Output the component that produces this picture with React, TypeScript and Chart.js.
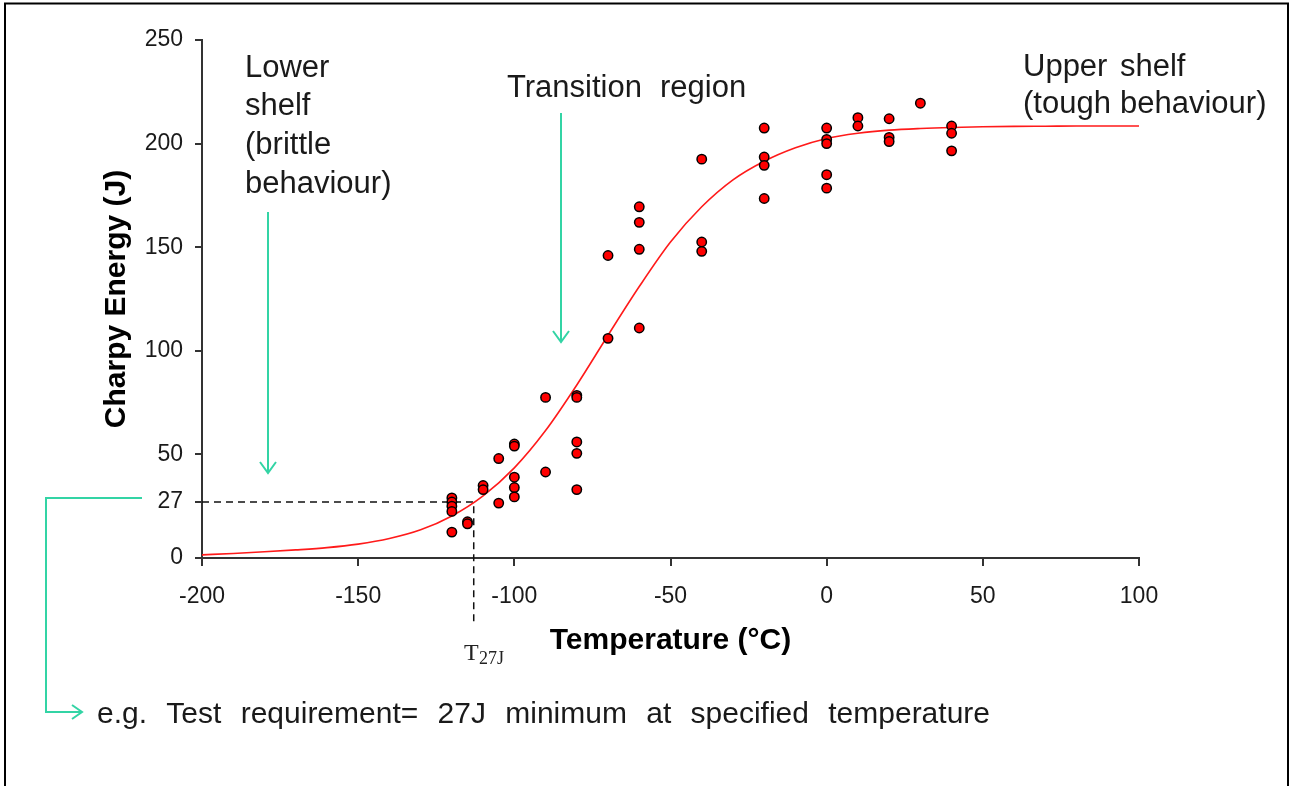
import React, { useEffect, useRef } from "react";
import { Chart, registerables } from "chart.js";

Chart.register(...registerables);

// Measured Charpy test points
const POINT_TEMPS = [
  -120, -120, -120, -120, -120,
  -115, -115,
  -110, -110,
  -105, -105,
  -100, -100, -100, -100, -100,
  -90, -90,
  -80, -80, -80, -80, -80,
  -70, -70,
  -60, -60, -60, -60,
  -40, -40, -40,
  -20, -20, -20, -20,
  0, 0, 0, 0, 0,
  10, 10,
  20, 20, 20,
  30,
  40, 40, 40,
];
const POINT_ENERGIES = [
  29, 27, 25, 22.5, 12.5,
  17.5, 16.5,
  35, 33,
  48, 26.5,
  55, 54, 39, 34, 29.5,
  77.5, 41.5,
  78.5, 77.5, 56, 50.5, 33,
  146, 106,
  169.5, 162, 149, 111,
  192.5, 152.5, 148,
  207.5, 193.5, 189.5, 173.5,
  207.5, 202, 200, 185, 178.5,
  212.5, 208.5,
  212, 203, 201,
  219.5,
  208.5, 205, 196.5,
];

// Fitted transition curve
const CURVE_TEMPS = [
  -200, -190, -180, -170, -160, -150, -140, -130, -120, -110, -100,
  -90, -80, -70, -60, -50, -40, -30, -20, -10, 0,
  10, 20, 30, 40, 50, 60, 70, 80, 90, 100,
];
const CURVE_ENERGIES = [
  1.5, 2.2, 3.0, 3.9, 5.0, 6.7, 9.4, 13.6, 20.3, 30, 43.5,
  61.5, 83.5, 107.5, 131, 152.5, 169.5, 182.5, 191.5, 198, 202.5,
  205, 206.5, 207.3, 207.8, 208.1, 208.3, 208.4, 208.5, 208.5, 208.5,
];

const Y_TICKS = [0, 27, 50, 100, 150, 200, 250];
const X_TICKS = [-200, -150, -100, -50, 0, 50, 100];
const REQUIREMENT_ENERGY = 27;
const T27J = -113;

const REQUIREMENT_WORDS = ["e.g.", "Test", "requirement=", "27J", "minimum", "at", "specified", "temperature"];

const SANS = "'Liberation Sans', Arial, sans-serif";
const SERIF = "'Liberation Serif', 'Times New Roman', serif";
const GREEN = "#33d4a5";
const INK = "#1a1a1a";

function arrowDown(ctx: CanvasRenderingContext2D, x: number, y1: number, y2: number) {
  ctx.beginPath();
  ctx.moveTo(x, y1);
  ctx.lineTo(x, y2);
  ctx.moveTo(x - 8, y2 - 11);
  ctx.lineTo(x, y2);
  ctx.lineTo(x + 8, y2 - 11);
  ctx.stroke();
}

function spreadWords(ctx: CanvasRenderingContext2D, words: string[], x0: number, x1: number, y: number) {
  const widths = words.map((w) => ctx.measureText(w).width);
  const total = widths.reduce((a, b) => a + b, 0);
  const gap = (x1 - x0 - total) / (words.length - 1);
  let x = x0;
  words.forEach((w, i) => {
    ctx.fillText(w, x, y);
    x += widths[i] + gap;
  });
}

const annotations = {
  id: "annotations",
  beforeDatasetsDraw(chart: any) {
    const { ctx, chartArea, scales } = chart;
    const y27 = scales.y.getPixelForValue(REQUIREMENT_ENERGY);
    const xT = scales.x.getPixelForValue(T27J);
    ctx.save();
    ctx.strokeStyle = "#111";
    ctx.lineWidth = 1.5;
    ctx.setLineDash([7, 5]);
    ctx.beginPath();
    ctx.moveTo(chartArea.left, y27);
    ctx.lineTo(xT, y27);
    ctx.lineTo(xT, 622);
    ctx.stroke();
    ctx.restore();
  },
  afterDraw(chart: any) {
    const { ctx, chartArea } = chart;
    ctx.save();
    // frame
    ctx.strokeStyle = "#000";
    ctx.lineWidth = 2;
    ctx.beginPath();
    ctx.moveTo(5, 800);
    ctx.lineTo(5, 3.5);
    ctx.lineTo(1288, 3.5);
    ctx.lineTo(1288, 800);
    ctx.stroke();

    // axis titles
    ctx.fillStyle = "#000";
    ctx.font = `bold 30px ${SANS}`;
    ctx.textAlign = "center";
    ctx.textBaseline = "middle";
    ctx.fillText("Temperature (°C)", (chartArea.left + chartArea.right) / 2, 641);
    ctx.save();
    ctx.translate(117, (chartArea.top + chartArea.bottom) / 2);
    ctx.rotate(-Math.PI / 2);
    ctx.fillText("Charpy Energy (J)", 0, 0);
    ctx.restore();

    // annotation texts
    ctx.fillStyle = INK;
    ctx.font = `31px ${SANS}`;
    ctx.textAlign = "left";
    ctx.textBaseline = "alphabetic";
    ctx.fillText("Lower", 245, 77);
    ctx.fillText("shelf", 245, 115);
    ctx.fillText("(brittle", 245, 154);
    ctx.fillText("behaviour)", 245, 193);
    ctx.fillText("Transition", 507, 97);
    ctx.fillText("region", 660, 97);
    ctx.fillText("Upper", 1023, 76);
    ctx.fillText("shelf", 1120, 76);
    ctx.fillText("(tough", 1023, 113);
    ctx.fillText("behaviour)", 1120, 113);
    ctx.font = `30px ${SANS}`;
    spreadWords(ctx, REQUIREMENT_WORDS, 97, 990, 723);

    // T27J label
    ctx.fillStyle = "#222";
    ctx.font = `24px ${SERIF}`;
    ctx.fillText("T", 464, 660);
    ctx.font = `18px ${SERIF}`;
    ctx.fillText("27J", 479, 664);

    // green arrows
    ctx.strokeStyle = GREEN;
    ctx.lineWidth = 2;
    arrowDown(ctx, 268, 212, 473);
    arrowDown(ctx, 561, 113, 342);
    ctx.beginPath();
    ctx.moveTo(142, 498);
    ctx.lineTo(46, 498);
    ctx.lineTo(46, 712);
    ctx.lineTo(82, 712);
    ctx.moveTo(72, 705);
    ctx.lineTo(82, 712);
    ctx.lineTo(72, 719);
    ctx.stroke();
    ctx.restore();
  },
};

export default function App() {
  const ref = useRef<HTMLCanvasElement | null>(null);

  useEffect(() => {
    document.body.style.margin = "0";
    const canvas = ref.current;
    if (!canvas) return;
    const chart = new Chart(canvas, {
      type: "scatter",
      data: {
        datasets: [
          {
            label: "Charpy tests",
            data: POINT_TEMPS.map((t, i) => ({ x: t, y: POINT_ENERGIES[i] })),
            backgroundColor: "#ff0000",
            borderColor: "#000",
            borderWidth: 1.5,
            pointRadius: 4.7,
            order: 0,
          },
          {
            label: "Fit",
            type: "line",
            data: CURVE_TEMPS.map((t, i) => ({ x: t, y: CURVE_ENERGIES[i] })),
            borderColor: "#ff1a1a",
            borderWidth: 1.6,
            pointRadius: 0,
            showLine: true,
            fill: false,
            cubicInterpolationMode: "monotone",
            order: 1,
          } as any,
        ],
      },
      options: {
        responsive: false,
        animation: false,
        events: [],
        layout: { padding: { left: 0, right: 151, top: 40, bottom: 0 } },
        plugins: {
          legend: { display: false },
          tooltip: { enabled: false },
        },
        scales: {
          x: {
            type: "linear",
            min: -200,
            max: 100,
            afterBuildTicks: (s: any) => {
              s.ticks = X_TICKS.map((v) => ({ value: v }));
            },
            afterFit: (s: any) => {
              s.height = 228;
            },
            grid: {
              drawOnChartArea: false,
              drawTicks: true,
              tickLength: 8,
              color: "#333",
              lineWidth: 2,
            },
            border: { display: true, color: "#333", width: 2 },
            ticks: {
              color: INK,
              font: { family: SANS, size: 23 },
              padding: 17,
              maxRotation: 0,
            },
          },
          y: {
            type: "linear",
            min: 0,
            max: 250,
            afterBuildTicks: (s: any) => {
              s.ticks = Y_TICKS.map((v) => ({ value: v }));
            },
            afterFit: (s: any) => {
              s.width = 202;
            },
            grid: {
              drawOnChartArea: false,
              drawTicks: true,
              tickLength: 7,
              color: "#333",
              lineWidth: 2,
            },
            border: { display: true, color: "#333", width: 2 },
            ticks: {
              color: INK,
              font: { family: SANS, size: 23 },
              padding: 12,
            },
          },
        },
      },
      plugins: [annotations],
    });
    return () => chart.destroy();
  }, []);

  return <canvas ref={ref} width={1290} height={786} style={{ display: "block" }} />;
}
